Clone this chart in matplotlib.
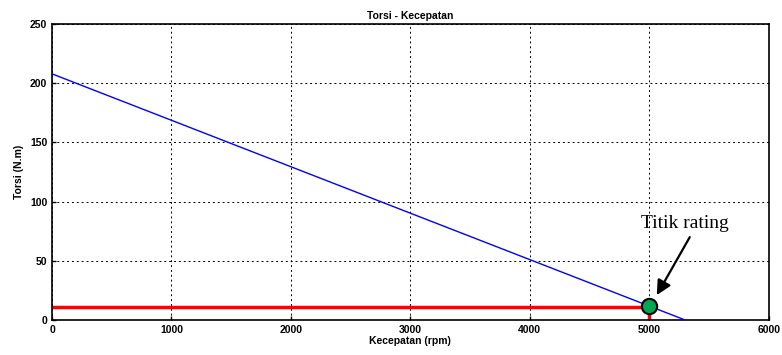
import matplotlib
matplotlib.use("Agg")
import matplotlib.pyplot as plt

speed = [0, 5300]
torque = [208, 0]
rated_speed = 5000
rated_torque = 11
marker_torque = 12
xticks = [0, 1000, 2000, 3000, 4000, 5000, 6000]
yticks = [0, 50, 100, 150, 200, 250]

plt.rcParams['font.family'] = ['Liberation Sans', 'DejaVu Sans']
fig = plt.figure(figsize=(7.82, 3.55), dpi=100)
ax = fig.add_axes([0.0665, 0.0986, 0.9165, 0.8334])

ax.plot(speed, torque, color='blue', lw=1.0, zorder=3)
ax.plot([0, rated_speed], [rated_torque, rated_torque], color='red', lw=2.5, zorder=2)
ax.plot([rated_speed, rated_speed], [0, rated_torque], color='red', lw=2.5, zorder=2)
ax.plot([rated_speed], [marker_torque], 'o', ms=11, mfc='#00a651', mec='black', mew=1.5, zorder=5)

ax.text(5297, 77.5, 'Titik rating', fontsize=14, family=['Liberation Serif'],
        ha='center', va='baseline')
ax.annotate('', xy=(5063, 21), xytext=(5339, 70),
            arrowprops=dict(arrowstyle='-|>', color='black', lw=1.6, mutation_scale=22,
                            shrinkA=0, shrinkB=0))

ax.set_xlim(0, 6000)
ax.set_ylim(0, 250)
ax.set_xticks(xticks)
ax.set_yticks(yticks)
ax.grid(True, color='black', linestyle=(0, (2, 3)), lw=0.7)
ax.tick_params(direction='in', length=3, labelsize=7.5, width=1)
for lab in ax.get_xticklabels() + ax.get_yticklabels():
    lab.set_fontweight('bold')
for s in ax.spines.values():
    s.set_linewidth(1.2)
ax.set_title('Torsi - Kecepatan', fontsize=7.5, fontweight='bold', pad=4)
ax.set_xlabel('Kecepatan (rpm)', fontsize=7.5, fontweight='bold', labelpad=1)
ax.set_ylabel('Torsi (N.m)', fontsize=7.5, fontweight='bold', labelpad=4)

fig.savefig('out.png', dpi=100)
